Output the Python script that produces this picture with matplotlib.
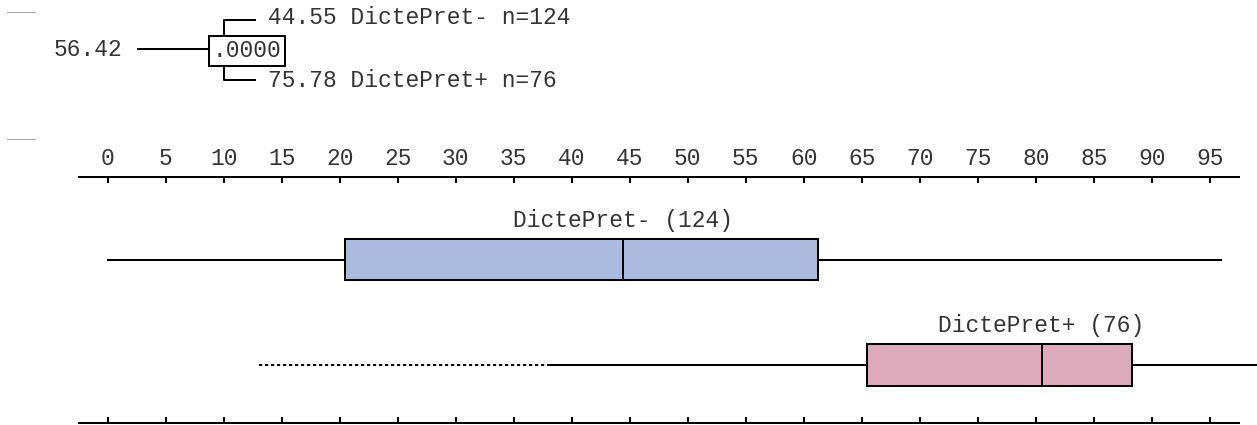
import matplotlib.pyplot as plt
import numpy as np

# group summary
groups = ["DictePret-", "DictePret+"]
counts = [124, 76]
means = [44.55, 75.78]
overall_mean = 56.42
p_value = ".0000"

q1 = [20.45, 65.45]
medians = [44.4, 80.5]
q3 = [61.25, 88.3]
whis_lo = [0.0, 38.0]
whis_hi = [96.0, 100.0]
range_lo = [None, 13.0]  # dotted extension below the whisker

box_colors = ["#aabbdd", "#ddaabb"]
ticks = np.arange(0, 100, 5)

W, H = 1257, 425
plt.rcParams["font.family"] = ["Liberation Mono", "DejaVu Sans Mono"]
FS = 16.5
TXT = "#333333"
LW = 1.44

fig = plt.figure(figsize=(W / 100, H / 100), dpi=100)

# main axis: top spine at y=177px, bottom spine at y=423px (from top)
ax = fig.add_axes([79 / W, 2 / H, (1238.5 - 79) / W, (423 - 177) / H])
px0, ppu = 107.8, 11.6
ax.set_xlim((79 - px0) / ppu, (1238.5 - px0) / ppu)
ax.set_ylim(423, 177)

positions = [260, 365]
stats = []
for i, g in enumerate(groups):
    stats.append(dict(med=medians[i], q1=q1[i], q3=q3[i],
                      whislo=whis_lo[i], whishi=whis_hi[i], label=g))

bp = ax.bxp(stats, positions=positions, widths=41, orientation="horizontal",
            patch_artist=True, showcaps=False, showfliers=False,
            boxprops=dict(linewidth=LW, edgecolor="black"),
            whiskerprops=dict(linewidth=LW, color="black", clip_on=False),
            medianprops=dict(linewidth=LW, color="black"),
            manage_ticks=False)
for patch, c in zip(bp["boxes"], box_colors):
    patch.set_facecolor(c)

for i, g in enumerate(groups):
    if range_lo[i] is not None:
        ax.plot([range_lo[i], whis_lo[i]], [positions[i], positions[i]],
                color="black", lw=LW, linestyle=(0, (1.6, 1.4)), clip_on=False)
    ax.text(medians[i], positions[i] - 39, f"{g} ({counts[i]})",
            ha="center", va="center", fontsize=FS, color=TXT)

ax.set_xticks(ticks)
ax.set_xticklabels([str(t) for t in ticks])
ax.set_yticks([])
ax.tick_params(axis="x", which="both", direction="in", length=4.3, width=LW,
               top=True, bottom=True, labeltop=True, labelbottom=False,
               labelsize=FS, labelcolor=TXT, pad=5)
for s in ["left", "right"]:
    ax.spines[s].set_visible(False)
for s in ["top", "bottom"]:
    ax.spines[s].set_linewidth(LW)
ax.patch.set_alpha(0)

# header (comparison tree), laid out in pixel coordinates
hx = fig.add_axes([0, 0, 1, 1])
hx.set_xlim(0, W)
hx.set_ylim(H, 0)
hx.axis("off")
hx.patch.set_alpha(0)

hx.plot([7, 35], [12, 12], color="#aaaaaa", lw=0.8)
hx.plot([7, 35], [139, 139], color="#aaaaaa", lw=0.8)

hx.text(122, 49, f"{overall_mean:.2f}", ha="right", va="center", fontsize=FS, color=TXT)
hx.plot([138, 209], [49, 49], color="black", lw=LW)
hx.add_patch(plt.Rectangle((209, 36), 76, 30, fill=False, edgecolor="black", lw=LW))
hx.text(247, 50, p_value, ha="center", va="center", fontsize=FS, color=TXT)
hx.plot([255, 224, 224], [19.5, 19.5, 36], color="black", lw=LW)
hx.plot([224, 224, 255], [66, 80, 80], color="black", lw=LW)
hx.text(268, 17, f"{means[0]:.2f} {groups[0]} n={counts[0]}",
        ha="left", va="center", fontsize=FS, color=TXT)
hx.text(268, 80, f"{means[1]:.2f} {groups[1]} n={counts[1]}",
        ha="left", va="center", fontsize=FS, color=TXT)

fig.savefig("out.png", dpi=100)
